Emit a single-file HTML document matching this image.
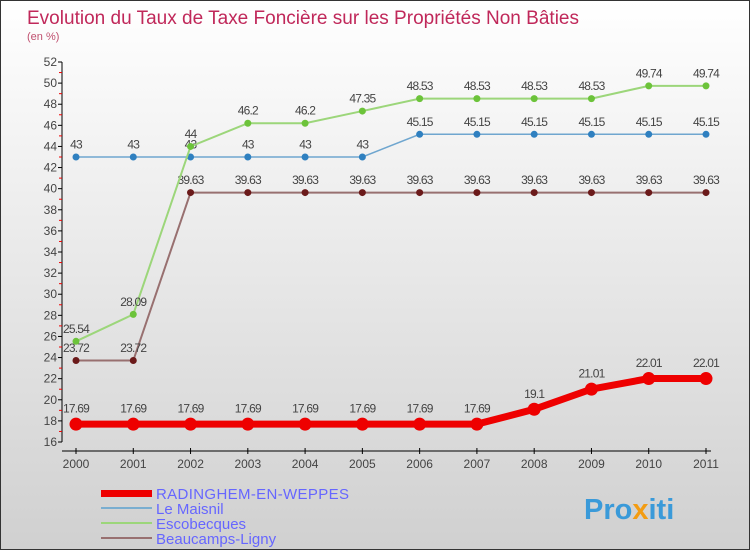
<!DOCTYPE html>
<html><head><meta charset="utf-8"><style>
body{margin:0}
#c{width:748px;height:548px;border:1px solid #333;background:linear-gradient(#fff,#d0d0d0);position:relative;overflow:hidden;font-family:"Liberation Sans",sans-serif}
</style></head><body>
<div id="c">
<svg id="s" width="748" height="548" xmlns="http://www.w3.org/2000/svg">
<text x="26" y="23" font-size="19" fill="#c0285a" textLength="552">Evolution du Taux de Taxe Foncière sur les Propriétés Non Bâties</text>
<text x="26" y="39" font-size="11" fill="#c0506f">(en %)</text>
<g id="axes"></g><g id="series"></g>
<g>
<rect x="100" y="489" width="51" height="7" fill="#e00"/>
<text x="155" y="498" font-size="15" fill="#66f" textLength="193">RADINGHEM-EN-WEPPES</text>
<rect x="100" y="506" width="51" height="2" fill="#7aaed0"/>
<text x="155" y="513" font-size="15" fill="#66f">Le Maisnil</text>
<rect x="100" y="521" width="51" height="2" fill="#9cd67a"/>
<text x="155" y="528" font-size="15" fill="#66f">Escobecques</text>
<rect x="100" y="536" width="51" height="2" fill="#987070"/>
<text x="155" y="543" font-size="15" fill="#66f">Beaucamps-Ligny</text>
</g>
<text x="583" y="518" font-size="29" font-weight="bold" fill="#3a9ad9">Pro<tspan fill="#f39c12">x</tspan>iti</text>
</svg></div>
<script>
const years=[2000,2001,2002,2003,2004,2005,2006,2007,2008,2009,2010,2011];
const radinghem=[17.69,17.69,17.69,17.69,17.69,17.69,17.69,17.69,19.1,21.01,22.01,22.01];
const maisnil=[43,43,43,43,43,43,45.15,45.15,45.15,45.15,45.15,45.15];
const escobecques=[25.54,28.09,44,46.2,46.2,47.35,48.53,48.53,48.53,48.53,49.74,49.74];
const beaucamps=[23.72,23.72,39.63,39.63,39.63,39.63,39.63,39.63,39.63,39.63,39.63,39.63];
const yTicks=[16,18,20,22,24,26,28,30,32,34,36,38,40,42,44,46,48,50,52];
const NS="http://www.w3.org/2000/svg";
const X=i=>75+i*(630/11);
const Y=v=>441-(v-16)*(380/36);
function mk(t,a,p){const e=document.createElementNS(NS,t);for(const k in a)e.setAttribute(k,a[k]);p.appendChild(e);return e;}
const ax=document.getElementById('axes');
let yl=mk('line',{x1:61,y1:Y(52),x2:61,y2:Y(16),stroke:'#000'},ax);


let xl=mk('line',{x1:61,y1:450,x2:710,y2:450,stroke:'#000'},ax);


yTicks.forEach(v=>{
 mk('line',{x1:57,y1:Y(v),x2:61,y2:Y(v),stroke:'#000'},ax);
 if(v<52)mk('line',{x1:58,y1:Y(v+1),x2:61,y2:Y(v+1),stroke:'#e00'},ax);
 const t=mk('text',{x:56,y:Y(v)+4,'font-size':12,'text-anchor':'end',fill:'#444'},ax);t.textContent=v;
 
 
});
years.forEach((y,i)=>{
 mk('line',{x1:X(i),y1:447,x2:X(i),y2:453,stroke:'#000'},ax);
 const t=mk('text',{x:X(i),y:467,'font-size':12,'text-anchor':'middle',fill:'#444'},ax);t.textContent=y;
 
 
});
const sg=document.getElementById('series');
function series(data,name,color,dot,w,r){
 const g=mk('g',{},sg);
 
 
 mk('polyline',{points:data.map((v,i)=>X(i)+','+Y(v)).join(' '),fill:'none',stroke:color,'stroke-width':w},g);
 data.forEach((v,i)=>{
  const c=mk('circle',{cx:X(i),cy:Y(v),r:r,fill:dot},g);
  
  
  const t=mk('text',{x:X(i),y:Y(v)-(r+5),'font-size':12,'text-anchor':'middle',fill:'#444','letter-spacing':'-0.8'},g);t.textContent=v;
  
  
 });
}
series(beaucamps,'series-beaucamps','#987070','#6b1a1a',2,3.5);
series(maisnil,'series-le-maisnil','#6fa6cf','#2f80c0',1.5,3.5);
series(escobecques,'series-escobecques','#9cd67a','#6cc33a',2,3.5);
series(radinghem,'series-radinghem','#e00','#e00',7,6.5);
</script></body></html>
